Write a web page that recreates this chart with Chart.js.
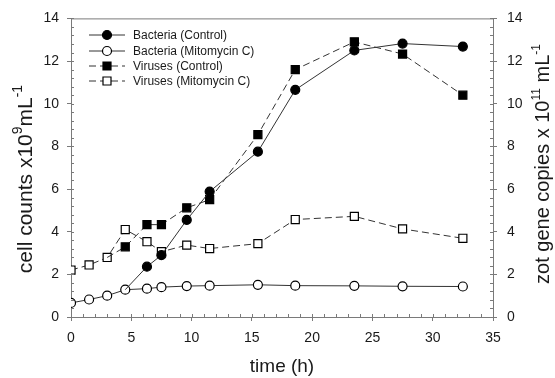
<!DOCTYPE html>
<html>
<head>
<meta charset="utf-8">
<script src="https://cdn.jsdelivr.net/npm/chart.js@4.4.1/dist/chart.umd.min.js"></script>
<style>
  html, body { margin: 0; padding: 0; background: #fff; }
  #wrap { width: 555px; height: 378px; }
</style>
</head>
<body>
<div id="wrap"><canvas id="growthChart" width="555" height="378"></canvas></div>
<script>
// sampling times (h)
const timeH = [0, 1.5, 3.0, 4.5, 6.3, 7.5, 9.6, 11.5, 15.5, 18.6, 23.5, 27.5, 32.5];

// cell counts x10^9 mL^-1 (control line branches off the shared early points)
const bacteriaControl = [null, null, null, 1.28, 2.36, 2.9, 4.55, 5.88, 7.75, 10.65, 12.5, 12.82, 12.68];
const bacteriaMitomycin = [0.66, 0.82, 1.0, 1.28, 1.33, 1.4, 1.45, 1.47, 1.51, 1.47, 1.46, 1.44, 1.43];

// zot gene copies x10^11 mL^-1
const virusesControl = [null, null, 2.79, 3.29, 4.33, 4.33, 5.12, 5.5, 8.55, 11.6, 12.9, 12.33, 10.4];
const virusesMitomycin = [2.2, 2.44, 2.79, 4.1, 3.53, 3.06, 3.37, 3.21, 3.44, 4.57, 4.72, 4.13, 3.69];

const yTicks = [0, 2, 4, 6, 8, 10, 12, 14];
const xTicks = [0, 5, 10, 15, 20, 25, 30, 35];

const FONT = '"Liberation Sans", Arial, sans-serif';
const AXIS = '#7a7a7a';
const INK = '#1a1a1a';

function toPoints(values) {
    return timeH.map((t, i) => ({ x: t, y: values[i] }));
}

// first point of a branching series is drawn as line only
function hideFirst(values, r) {
    const first = values.findIndex(v => v !== null);
    return ctx => (ctx.dataIndex === first && values[0] === null) ? 0 : r;
}

const series = [
    { label: 'Bacteria (Control)', values: bacteriaControl, axis: 'y', style: 'circle', filled: true, dash: [] },
    { label: 'Bacteria (Mitomycin C)', values: bacteriaMitomycin, axis: 'y', style: 'circle', filled: false, dash: [] },
    { label: 'Viruses (Control)', values: virusesControl, axis: 'y2', style: 'rect', filled: true, dash: [7, 4] },
    { label: 'Viruses (Mitomycin C)', values: virusesMitomycin, axis: 'y2', style: 'rect', filled: false, dash: [7, 4] }
];

// text with superscripts, optionally rotated
function drawRich(ctx, parts, cx, cy, size, angle, supRatio) {
    const supSize = Math.round(size * (supRatio || 0.62));
    let total = 0;
    parts.forEach(p => {
        ctx.font = (p.sup ? supSize : size) + 'px ' + FONT;
        p.w = ctx.measureText(p.t).width;
        total += p.w;
    });
    ctx.save();
    ctx.translate(cx, cy);
    ctx.rotate(angle);
    ctx.fillStyle = INK;
    ctx.textBaseline = 'alphabetic';
    ctx.textAlign = 'left';
    let x = -total / 2;
    const base = size * 0.36;
    parts.forEach(p => {
        ctx.font = (p.sup ? supSize : size) + 'px ' + FONT;
        ctx.fillText(p.t, x, p.sup ? base - size * 0.45 : base);
        x += p.w;
    });
    ctx.restore();
}

const decorations = {
    id: 'decorations',
    afterDraw(chart) {
        const { ctx, chartArea: a, scales } = chart;
        ctx.save();
        ctx.strokeStyle = AXIS;
        ctx.lineWidth = 1;

        // top frame line
        ctx.beginPath();
        ctx.moveTo(a.left, a.top + 0.5);
        ctx.lineTo(a.right, a.top + 0.5);
        ctx.stroke();

        // minor ticks, pointing inward
        ctx.beginPath();
        for (let v = 0; v <= 14.001; v += 0.4) {
            const py = Math.round(scales.y.getPixelForValue(v)) + 0.5;
            ctx.moveTo(a.left, py); ctx.lineTo(a.left + 3, py);
            ctx.moveTo(a.right, py); ctx.lineTo(a.right - 3, py);
        }
        for (let v = 0; v <= 35; v += 1) {
            const px = Math.round(scales.x.getPixelForValue(v)) + 0.5;
            ctx.moveTo(px, a.bottom); ctx.lineTo(px, a.bottom - 3);
        }
        ctx.stroke();

        // legend
        const rows = [35, 51, 66, 81];
        series.forEach((s, i) => {
            const y = rows[i];
            ctx.strokeStyle = '#333';
            ctx.setLineDash(s.dash);
            ctx.beginPath();
            ctx.moveTo(89, y); ctx.lineTo(125, y);
            ctx.stroke();
            ctx.setLineDash([]);
            ctx.fillStyle = s.filled ? '#000' : '#fff';
            ctx.strokeStyle = '#000';
            ctx.lineWidth = 1.2;
            ctx.beginPath();
            if (s.style === 'circle') ctx.arc(107, y, 4.5, 0, Math.PI * 2);
            else ctx.rect(103, y - 4, 8, 8);
            ctx.fill(); ctx.stroke();
            ctx.lineWidth = 1;
            ctx.fillStyle = INK;
            ctx.font = '12px ' + FONT;
            ctx.textBaseline = 'middle';
            ctx.textAlign = 'left';
            ctx.fillText(s.label, 133, y + 1);
        });
        ctx.restore();

        // axis titles
        drawRich(ctx, [{ t: 'cell counts x10' }, { t: '9', sup: true }, { t: 'mL' }, { t: '-1', sup: true }],
            24, 179, 21, -Math.PI / 2, 0.68);
        drawRich(ctx, [{ t: 'zot gene copies x 10' }, { t: '11', sup: true }, { t: ' mL' }, { t: '-1', sup: true }],
            542, 164, 20, -Math.PI / 2);
        drawRich(ctx, [{ t: 'time (h)' }], 282, 365, 19, 0);
    }
};

function yAxis(position, width) {
    return {
        type: 'linear',
        position: position,
        min: 0,
        max: 14,
        afterBuildTicks: s => { s.ticks = yTicks.map(v => ({ value: v })); },
        afterFit: s => { s.width = width; },
        border: { display: true, color: AXIS, width: 1 },
        grid: { drawOnChartArea: false, drawTicks: true, tickLength: 4, color: AXIS },
        ticks: { color: INK, font: { family: FONT, size: 14 }, padding: position === 'left' ? 8 : 10 }
    };
}

new Chart(document.getElementById('growthChart').getContext('2d'), {
    type: 'line',
    data: {
        datasets: series.map(s => ({
            label: s.label,
            data: toPoints(s.values),
            yAxisID: s.axis,
            borderColor: '#333',
            borderWidth: 1,
            borderDash: s.dash,
            tension: 0,
            spanGaps: false,
            pointStyle: s.style,
            pointRadius: hideFirst(s.values, s.style === 'circle' ? 4.5 : 5.7),
            pointBackgroundColor: s.filled ? '#000' : '#fff',
            pointBorderColor: '#000',
            pointBorderWidth: 1.2
        }))
    },
    options: {
        responsive: false,
        animation: false,
        events: [],
        layout: { padding: { top: 14, left: 0, right: 0, bottom: 0 } },
        plugins: { legend: { display: false }, tooltip: { enabled: false } },
        scales: {
            x: {
                type: 'linear',
                min: 0,
                max: 35,
                afterBuildTicks: s => { s.ticks = xTicks.map(v => ({ value: v })); },
                afterFit: s => { s.height = 61; },
                border: { display: true, color: AXIS, width: 1 },
                grid: { drawOnChartArea: false, drawTicks: true, tickLength: 4, color: AXIS },
                ticks: { color: INK, font: { family: FONT, size: 14 }, padding: 9, maxRotation: 0 }
            },
            y: yAxis('left', 71),
            y2: yAxis('right', 62)
        }
    },
    plugins: [decorations]
});
</script>
</body>
</html>
